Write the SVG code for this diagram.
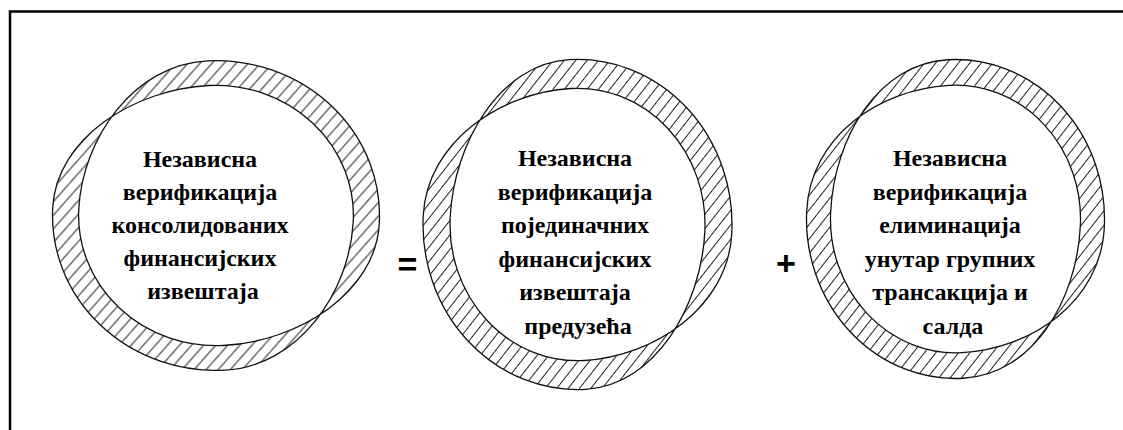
<svg xmlns="http://www.w3.org/2000/svg" width="1123" height="430" viewBox="0 0 1123 430">
  <defs>
    <pattern id="hatch" patternUnits="userSpaceOnUse" width="9" height="20" patternTransform="rotate(-5)">
      <rect width="9" height="20" fill="#fff"/>
      <line x1="4.5" y1="0" x2="4.5" y2="20" stroke="#222" stroke-width="1"/>
    </pattern>
  </defs>
  <style>
    .frame { fill: none; stroke: #000; stroke-width: 2.5; }
    .ring { fill: url(#hatch); fill-rule: evenodd; stroke: #111; stroke-width: 1.3; vector-effect: non-scaling-stroke; }
    .lbl { font-family: "Liberation Serif", "Times New Roman", serif; font-weight: bold; font-size: 24px; fill: #000; text-anchor: middle; }
    .op { font-family: "Liberation Sans", Arial, sans-serif; font-weight: bold; font-size: 34px; fill: #000; text-anchor: middle; }
  </style>
  <rect width="1123" height="430" fill="#fff"/>
  <path class="frame" d="M10,432 V11.5 H1125"/>

  <g id="node1">
    <path class="ring" transform="translate(216 215.5) scale(1.027 0.973) rotate(45)" d="M118.3,-106.52 A159.2,159.2 0 0 0 -118.3,-106.52 C-166.48,-53.02 -147.61,36.03 -99.43,89.53 A133.8,133.8 0 0 0 99.43,89.53 C147.61,36.03 166.48,-53.02 118.3,-106.52 Z M118.3,106.52 A159.2,159.2 0 0 1 -118.3,106.52 C-166.48,53.02 -147.61,-36.03 -99.43,-89.53 A133.8,133.8 0 0 1 99.43,-89.53 C147.61,-36.03 166.48,53.02 118.3,106.52 Z"/>
    <text class="lbl">
      <tspan x="203" y="167">Независна</tspan>
      <tspan x="203" y="200">верификација</tspan>
      <tspan x="203" y="233">консолидованих</tspan>
      <tspan x="203" y="266">финансијских</tspan>
      <tspan x="203" y="299">извештаја</tspan>
    </text>
  </g>

  <g id="node2">
    <path class="ring" transform="translate(577.5 224.5) scale(0.9675 1.0335) rotate(45)" d="M118.67,-106.86 A159.7,159.7 0 0 0 -118.67,-106.86 C-166.85,-53.36 -146.12,34.69 -97.94,88.19 A131.8,131.8 0 0 0 97.94,88.19 C146.12,34.69 166.85,-53.36 118.67,-106.86 Z M118.67,106.86 A159.7,159.7 0 0 1 -118.67,106.86 C-166.85,53.36 -146.12,-34.69 -97.94,-88.19 A131.8,131.8 0 0 1 97.94,-88.19 C146.12,-34.69 166.85,53.36 118.67,106.86 Z"/>
    <text class="lbl">
      <tspan x="578" y="166">Независна</tspan>
      <tspan x="578" y="199.5">верификација</tspan>
      <tspan x="578" y="233">појединачних</tspan>
      <tspan x="578" y="266.5">финансијских</tspan>
      <tspan x="578" y="300">извештаја</tspan>
      <tspan x="578" y="333.5">предузећа</tspan>
    </text>
  </g>

  <g id="node3">
    <path class="ring" transform="translate(955.5 219) scale(0.967 1.035) rotate(45)" d="M114.51,-103.11 A154.1,154.1 0 0 0 -114.51,-103.11 C-162.69,-49.61 -144.26,33.01 -96.08,86.51 A129.3,129.3 0 0 0 96.08,86.51 C144.26,33.01 162.69,-49.61 114.51,-103.11 Z M114.51,103.11 A154.1,154.1 0 0 1 -114.51,103.11 C-162.69,49.61 -144.26,-33.01 -96.08,-86.51 A129.3,129.3 0 0 1 96.08,-86.51 C144.26,-33.01 162.69,49.61 114.51,103.11 Z"/>
    <text class="lbl">
      <tspan x="953" y="166">Независна</tspan>
      <tspan x="953" y="199.5">верификација</tspan>
      <tspan x="953" y="233">елиминација</tspan>
      <tspan x="953" y="266.5">унутар групних</tspan>
      <tspan x="953" y="300">трансакција и</tspan>
      <tspan x="953" y="333.5">салда</tspan>
    </text>
  </g>

  <g id="operators">
    <text class="op" x="407.5" y="276">=</text>
    <text class="op" x="786" y="275">+</text>
  </g>
</svg>
